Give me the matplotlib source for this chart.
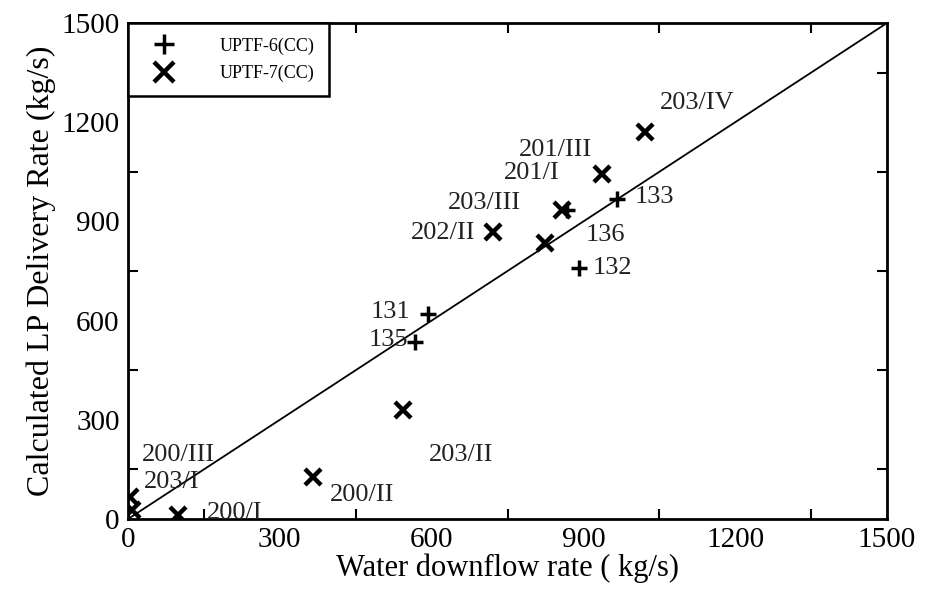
import matplotlib
matplotlib.use("Agg")
import matplotlib.pyplot as plt

plt.rcParams['font.family'] = ['Liberation Serif', 'DejaVu Serif']

# UPTF-6 (CC) points
u6_names = ["131", "135", "133", "132", "136"]
u6_x = [593, 567, 966, 891, 868]
u6_y = [620, 535, 968, 759, 934]

# UPTF-7 (CC) points
u7_names = ["203/IV", "201/III", "201/I", "203/III", "202/II",
            "203/II", "200/II", "200/I", "200/III", "203/I"]
u7_x = [1022, 937, 858, 824, 722, 543, 366, 99, 4, 8]
u7_y = [1170, 1043, 934, 835, 868, 330, 127, 12, 66, 27]

# label positions (text centres, data units)
u6_lab_x = [518, 514, 1040, 957, 943]
u6_lab_y = [626, 541, 974, 759, 859]
u7_lab_x = [1125, 844, 798, 704, 623, 658, 462, 210, 99, 87]
u7_lab_y = [1258, 1116, 1046, 956, 865, 194, 73, 18, 194, 112]

major_ticks = [0, 300, 600, 900, 1200, 1500]
minor_ticks = [150, 450, 750, 1050, 1350]

fig = plt.figure(figsize=(9.51, 5.93), dpi=100)
ax = fig.add_axes([0.1346, 0.1248, 0.7981, 0.8364])

ax.plot([0, 1500], [0, 1500], color='black', lw=1.3, zorder=2)
h6, = ax.plot(u6_x, u6_y, linestyle='none', marker='+', ms=12, mew=2.5,
              color='black', label='UPTF-6(CC)', zorder=3)
h7, = ax.plot(u7_x, u7_y, linestyle='none', marker='x', ms=11, mew=3.2,
              color='black', label='UPTF-7(CC)', zorder=3)

for name, lx, ly in zip(u6_names, u6_lab_x, u6_lab_y):
    ax.text(lx, ly, name, ha='center', va='center', fontsize=19, color='#222222')
for name, lx, ly in zip(u7_names, u7_lab_x, u7_lab_y):
    ax.text(lx, ly, name, ha='center', va='center', fontsize=19, color='#222222')

ax.set_xlim(0, 1500)
ax.set_ylim(0, 1500)
ax.set_xticks(major_ticks)
ax.set_yticks(major_ticks)
ax.set_xticks(minor_ticks, minor=True)
ax.set_yticks(minor_ticks, minor=True)
ax.tick_params(which='major', length=0, labelsize=21, pad=6)
ax.tick_params(which='minor', direction='in', length=7, width=1.5,
               top=True, right=True)
for s in ax.spines.values():
    s.set_linewidth(2)

ax.set_xlabel('Water downflow rate ( kg/s)', fontsize=22, labelpad=0)
ax.set_ylabel('Calculated LP Delivery Rate (kg/s)', fontsize=23, labelpad=4)

leg = ax.legend(handles=[h6, h7], loc='upper left', fontsize=13,
                frameon=True, fancybox=False, borderaxespad=0,
                handletextpad=1.9, borderpad=0.8, labelspacing=0.55,
                markerscale=1.25, handlelength=2.4)
leg.get_frame().set_edgecolor('black')
leg.get_frame().set_linewidth(1.8)
leg.get_frame().set_alpha(1)

fig.savefig('out.png', dpi=100)
